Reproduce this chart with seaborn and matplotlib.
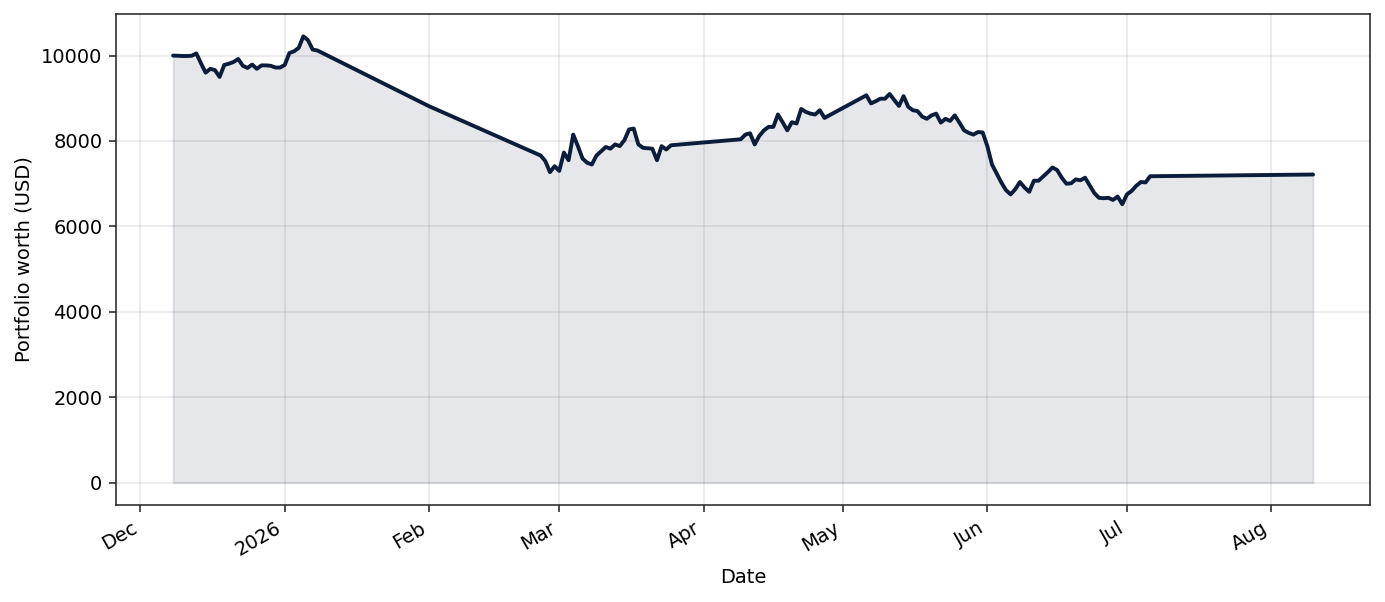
import pandas as pd
import matplotlib
matplotlib.use('Agg')
import matplotlib.pyplot as plt
import matplotlib.dates as mdates
import seaborn as sns

LINE_COLOR = '#0b1d3a'
OUTPUT = 'out.png'

# daily readings, one block per stretch of data, each block starts on the given day
DEC_START = '2025-12-08'
DEC_WORTH = [10000, 9995, 9990, 9990, 9995, 10050, 9820, 9600, 9690, 9660,
             9500, 9780, 9810, 9850, 9920, 9760, 9710, 9790, 9690, 9770,
             9770, 9760, 9720, 9720, 9780, 10060, 10100, 10180, 10450, 10360,
             10140, 10120]

FEB_START = '2026-02-01'
FEB_WORTH = [8815]

MAR_START = '2026-02-25'
MAR_WORTH = [7660, 7530, 7270, 7410, 7300, 7730, 7550, 8150, 7880, 7590,
             7490, 7450, 7660, 7760, 7860, 7820, 7920, 7880, 8020, 8270,
             8290, 7920, 7840, 7830, 7820, 7550, 7880, 7800, 7900]

APR_START = '2026-04-09'
APR_WORTH = [8040, 8150, 8180, 7920, 8120, 8250, 8330, 8330, 8620, 8440,
             8250, 8440, 8410, 8750, 8680, 8640, 8620, 8720, 8540]

MAY_START = '2026-05-06'
MAY_WORTH = [9070, 8880, 8930, 8990, 8990, 9100, 8960, 8820, 9050, 8800,
             8720, 8700, 8570, 8520, 8600, 8640, 8430, 8520, 8470, 8600,
             8430, 8250, 8190, 8150, 8210, 8200, 7880, 7450, 7240, 7030,
             6850, 6750, 6870, 7040, 6910, 6810, 7070, 7070, 7170, 7270,
             7380, 7320, 7140, 7000, 7010, 7100, 7080, 7140, 6960, 6780,
             6670, 6660, 6670, 6620, 6700, 6520, 6750, 6830, 6950, 7040,
             7030, 7175]

AUG_START = '2026-08-10'
AUG_WORTH = [7215]

SEGMENTS = [(DEC_START, DEC_WORTH), (FEB_START, FEB_WORTH),
            (MAR_START, MAR_WORTH), (APR_START, APR_WORTH),
            (MAY_START, MAY_WORTH), (AUG_START, AUG_WORTH)]


def build_frame():
    parts = []
    for start, worth in SEGMENTS:
        parts.append(pd.DataFrame({
            'Date': pd.date_range(start, periods=len(worth), freq='D'),
            'worth': worth,
        }))
    return pd.concat(parts, ignore_index=True)


def main():
    df = build_frame()

    sns.set_theme(style='ticks', rc={
        'axes.edgecolor': '#222222',
        'axes.linewidth': 0.8,
        'axes.labelcolor': 'black',
        'text.color': 'black',
        'xtick.color': '#222222',
        'ytick.color': '#222222',
        'xtick.labelcolor': 'black',
        'ytick.labelcolor': 'black',
        'xtick.major.size': 3.5,
        'ytick.major.size': 3.5,
        'xtick.major.width': 0.8,
        'ytick.major.width': 0.8,
        'font.size': 10,
        'axes.labelsize': 10,
        'xtick.labelsize': 10,
        'ytick.labelsize': 10,
    })
    plt.rcParams['font.family'] = ['DejaVu Sans']

    fig, ax = plt.subplots(figsize=(1385 / 140, 602 / 140), dpi=140)
    sns.lineplot(data=df, x='Date', y='worth', color=LINE_COLOR,
                 linewidth=2, ax=ax)
    ax.fill_between(df['Date'], df['worth'], color=LINE_COLOR, alpha=0.1)

    locator = mdates.MonthLocator()
    ax.xaxis.set_major_locator(locator)
    ax.xaxis.set_major_formatter(mdates.ConciseDateFormatter(locator, show_offset=False))
    ax.grid(True, color='#b0b0b0', alpha=0.3, linewidth=0.8)
    ax.set_ylabel('Portfolio worth (USD)')
    ax.set_xlabel('Date')
    fig.autofmt_xdate(rotation=30, ha='right')
    fig.subplots_adjust(left=0.0838, right=0.9892, top=0.9767, bottom=0.1611)
    fig.savefig(OUTPUT, dpi=140)


if __name__ == '__main__':
    main()
